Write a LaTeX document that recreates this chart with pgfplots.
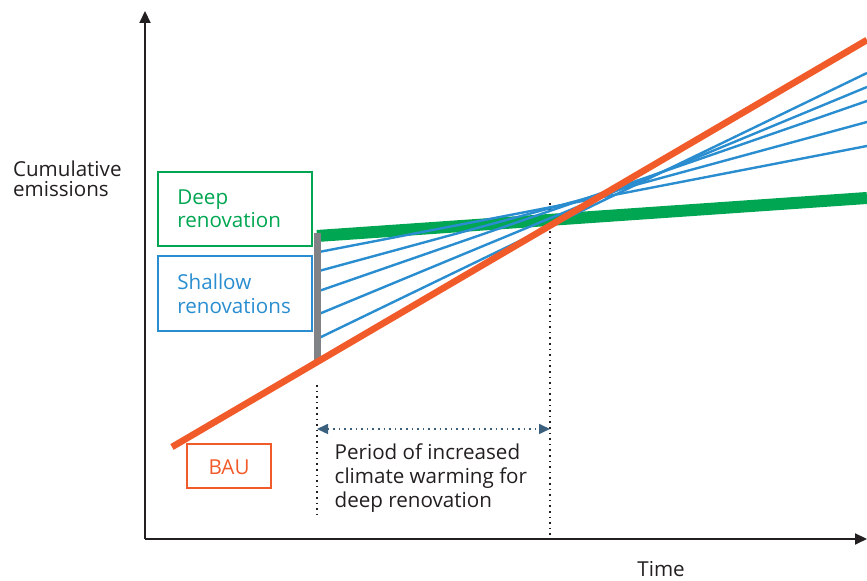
\documentclass[border=0pt]{standalone}
\usepackage{fontspec}
\setmainfont{Open Sans}
\usepackage{pgfplots}
\pgfplotsset{compat=1.18}
\usetikzlibrary{arrows.meta}

\definecolor{bau}{RGB}{241,90,41}
\definecolor{deep}{RGB}{0,166,81}
\definecolor{shallow}{RGB}{41,141,207}
\definecolor{bar}{RGB}{128,130,133}
\definecolor{ink}{RGB}{35,31,32}
\definecolor{period}{RGB}{59,96,125}

\tikzset{lbl/.style = {anchor=base west, inner sep=0pt, font=\fontsize{10.3}{12}\selectfont}}

\begin{document}
\begin{tikzpicture}
  \begin{axis}[
      scale only axis,
      width  = 433.5pt,
      height = 290.5pt,
      xmin = 0, xmax = 867,
      ymin = 0, ymax = 581,
      hide axis,
      clip = false,
    ]
    \coordinate (bl) at (axis cs:0,0);
    \coordinate (tr) at (axis cs:867,581);

    % axes
    \draw[ink, line width=1pt, -{Triangle[length=6pt,width=5.5pt]}]
      (axis cs:145,42) -- (axis cs:145,570);
    \draw[ink, line width=1pt, -{Triangle[length=6pt,width=5.5pt]}]
      (axis cs:145,42) -- (axis cs:867,42);

    % dotted guides
    \addplot[ink, line width=0.8pt, dotted] coordinates {(317,196) (317,66)};
    \addplot[ink, line width=0.8pt, dotted] coordinates {(550,378) (550,42)};
    \addplot[period, line width=0.8pt, dotted,
      {Triangle[length=5.5pt,width=5pt]}-{Triangle[length=5.5pt,width=5pt]}]
      coordinates {(317,152) (550,152)};

    % deep renovation
    \addplot[deep, line width=6pt] coordinates {(317,345) (867,383)};

    % shallow renovations
    \addplot[shallow, line width=1.2pt] coordinates {(319,329) (867,435)};
    \addplot[shallow, line width=1.2pt] coordinates {(319,310) (867,459)};
    \addplot[shallow, line width=1.2pt] coordinates {(319,290) (867,480)};
    \addplot[shallow, line width=1.2pt] coordinates {(319,267) (867,494)};
    \addplot[shallow, line width=1.2pt] coordinates {(319,243) (867,508)};

    % gap bar
    \addplot[bar, line width=3.5pt] coordinates {(317,348) (317,221)};

    % business as usual
    \addplot[bau, line width=3.3pt] coordinates {(172,134) (867,541)};

    % boxes
    \draw[deep, line width=1.4pt] (axis cs:158,409) rectangle (axis cs:312,335);
    \draw[shallow, line width=1.4pt] (axis cs:158,325) rectangle (axis cs:312,250);
    \draw[bau, line width=1.4pt] (axis cs:187,137) rectangle (axis cs:271,93);

    % labels
    \node[lbl, text=deep] at (axis cs:177,376.7) {Deep};
    \node[lbl, text=deep] at (axis cs:177,353.3) {renovation};
    \node[lbl, text=shallow] at (axis cs:177,291) {Shallow};
    \node[lbl, text=shallow] at (axis cs:177,267) {renovations};
    \node[lbl, text=bau, anchor=base] at (axis cs:229,106.7) {BAU};

    \node[lbl, text=ink] at (axis cs:12.7,404.5) {Cumulative};
    \node[lbl, text=ink] at (axis cs:12.7,384) {emissions};
    \node[lbl, text=ink] at (axis cs:637,4) {Time};

    \node[lbl, text=ink] at (axis cs:334.3,121) {Period of increased};
    \node[lbl, text=ink] at (axis cs:334.3,97) {climate warming for};
    \node[lbl, text=ink] at (axis cs:334.3,73) {deep renovation};
  \end{axis}
  \pgfresetboundingbox
  \useasboundingbox (bl) rectangle (tr);
\end{tikzpicture}
\end{document}
